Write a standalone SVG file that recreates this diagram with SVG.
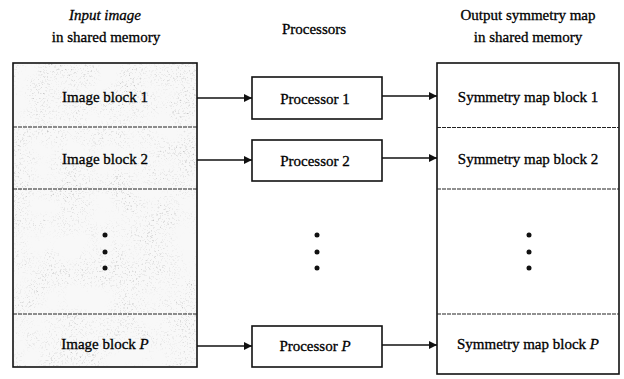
<svg xmlns="http://www.w3.org/2000/svg" width="624" height="379" viewBox="0 0 624 379">
  <style>
    text { font-family: "Liberation Serif", "Times New Roman", serif; font-size: 15px; fill: #000; stroke: #000; stroke-width: 0.3; text-anchor: middle; }
    .it { font-style: italic; }
    .frame { fill: none; stroke: #111; stroke-width: 1.6; }
    .box { fill: #fff; stroke: #111; stroke-width: 1.6; }
    .div { stroke: #222; stroke-width: 1.1; stroke-dasharray: 4 1; }
    .link { stroke: #111; stroke-width: 1.5; fill: none; marker-end: url(#head); }
    .dot { fill: #111; }
  </style>
  <defs>
    <marker id="head" viewBox="0 0 10 10" refX="10" refY="5" markerWidth="10" markerHeight="8" markerUnits="userSpaceOnUse" orient="auto">
      <path d="M0,0 L10,5 L0,10 z" fill="#111"/>
    </marker>
    <!-- scanned-image speckle for the input image memory -->
    <filter id="grain" x="0" y="0" width="100%" height="100%" color-interpolation-filters="sRGB">
      <feTurbulence type="fractalNoise" baseFrequency="0.55" numOctaves="3" seed="7" result="fine"/>
      <feColorMatrix in="fine" type="matrix" values="0 0 0 0 0.6  0 0 0 0 0.6  0 0 0 0 0.6  1 0 0 0 0" result="fa"/>
      <feComponentTransfer in="fa" result="speck">
        <feFuncA type="discrete" tableValues="0 0 0 0 0 0 0.15 0.3 0.5 0.65"/>
      </feComponentTransfer>
      <feTurbulence type="fractalNoise" baseFrequency="0.035" numOctaves="2" seed="3" result="coarse"/>
      <feColorMatrix in="coarse" type="matrix" values="0 0 0 0 0  0 0 0 0 0  0 0 0 0 0  3 0 0 0 -1" result="mask"/>
      <feComposite in="speck" in2="mask" operator="in"/>
    </filter>
  </defs>

  <!-- column headings -->
  <g id="head-input">
    <text class="it" x="105" y="20">Input image</text>
    <text x="106" y="42">in shared memory</text>
  </g>
  <g id="head-proc">
    <text x="314" y="34">Processors</text>
  </g>
  <g id="head-output">
    <text x="528" y="20">Output symmetry map</text>
    <text x="528" y="42">in shared memory</text>
  </g>

  <!-- input image memory -->
  <g id="input-memory">
    <rect x="13" y="63" width="184" height="304" fill="#f8f8f8"/>
    <rect x="13" y="63" width="184" height="304" fill="#fff" filter="url(#grain)"/>
    <rect class="frame" x="13" y="63" width="184" height="304"/>
    <line class="div" x1="13" y1="127" x2="197" y2="127"/>
    <line class="div" x1="13" y1="189" x2="197" y2="189"/>
    <line class="div" x1="13" y1="314" x2="197" y2="314"/>
    <text x="105" y="102">Image block 1</text>
    <text x="105" y="164">Image block 2</text>
    <circle class="dot" cx="105" cy="235" r="2.5"/>
    <circle class="dot" cx="105" cy="252" r="2.5"/>
    <circle class="dot" cx="105" cy="268" r="2.5"/>
    <text x="105" y="349">Image block <tspan class="it">P</tspan></text>
  </g>

  <!-- processors -->
  <g id="proc-1">
    <rect class="box" x="252" y="77" width="130" height="42"/>
    <text x="315" y="104">Processor 1</text>
  </g>
  <g id="proc-2">
    <rect class="box" x="252" y="140" width="130" height="41"/>
    <text x="315" y="166">Processor 2</text>
  </g>
  <g id="proc-dots">
    <circle class="dot" cx="317" cy="235" r="2.5"/>
    <circle class="dot" cx="317" cy="252" r="2.5"/>
    <circle class="dot" cx="317" cy="268" r="2.5"/>
  </g>
  <g id="proc-p">
    <rect class="box" x="252" y="326" width="130" height="41"/>
    <text x="315" y="351">Processor <tspan class="it">P</tspan></text>
  </g>

  <!-- output symmetry map memory -->
  <g id="output-memory">
    <rect class="box" x="437" y="63" width="182" height="311"/>
    <line class="div" x1="437" y1="127.5" x2="619" y2="127.5"/>
    <line class="div" x1="437" y1="189" x2="619" y2="189"/>
    <line class="div" x1="437" y1="314" x2="619" y2="314"/>
    <text x="528" y="102">Symmetry map block 1</text>
    <text x="528" y="164">Symmetry map block 2</text>
    <circle class="dot" cx="529" cy="235" r="2.5"/>
    <circle class="dot" cx="529" cy="252" r="2.5"/>
    <circle class="dot" cx="529" cy="268" r="2.5"/>
    <text x="528" y="349">Symmetry map block <tspan class="it">P</tspan></text>
  </g>

  <!-- data flow -->
  <g id="connectors">
    <line class="link" x1="197" y1="98" x2="252" y2="98"/>
    <line class="link" x1="197" y1="160" x2="252" y2="160"/>
    <line class="link" x1="197" y1="346" x2="252" y2="346"/>
    <line class="link" x1="382" y1="96" x2="437" y2="96"/>
    <line class="link" x1="382" y1="158" x2="437" y2="158"/>
    <line class="link" x1="382" y1="345" x2="437" y2="345"/>
  </g>
</svg>
